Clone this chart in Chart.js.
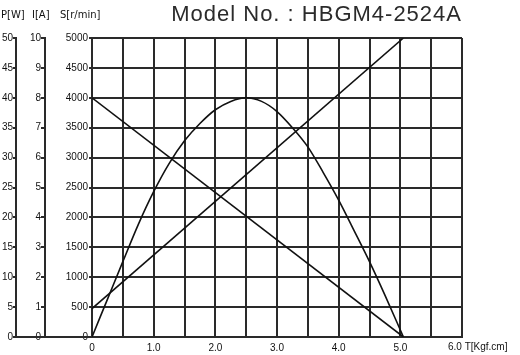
<!DOCTYPE html>
<html>
<head>
<meta charset="utf-8">
<script src="https://cdn.jsdelivr.net/npm/chart.js@4/dist/chart.umd.min.js"></script>
<style>
  html, body { margin: 0; padding: 0; background: #fff; }
  #wrap { width: 520px; height: 355px; }
</style>
</head>
<body>
<div id="wrap"><canvas id="chart"></canvas></div>
<script>
(function(){
    'use strict'

    // torque T [Kgf.cm] and the power curve
    var torque = [0, 0.25, 0.5, 0.75, 1.0, 1.25, 1.5, 1.75, 2.0, 2.25, 2.5, 2.75, 3.0, 3.25, 3.5, 3.75, 4.0, 4.25, 4.5, 4.75, 5.05];
    var power = [0, 6.3, 12.6, 18.8, 24.3, 29.0, 32.8, 35.7, 38.0, 39.4, 40.0, 39.4, 37.7, 35.0, 31.8, 27.5, 22.9, 17.8, 12.6, 7.0, 0];

    // speed and current are straight lines
    var speedTorque = [0, 5.05];
    var speed = [4000, 0];
    var currentTorque = [0, 5.05];
    var current = [0.95, 10];

    var xTicks = [0, 1.0, 2.0, 3.0, 4.0, 5.0];

    var title = 'Model No. : HBGM4-2524A';
    var ink = '#111';
    var gridInk = '#2a2a2a';
    var tickFont = { family: 'Liberation Sans', size: 10 };

    function pairs(xs, ys){
        return xs.map(function(x, i){ return { x: x, y: ys[i] }; });
    }

    var labels = {
        id: 'labels',
        afterDraw: function(chart){
            var ctx = chart.ctx;
            var area = chart.chartArea;
            var s = chart.scales;
            ctx.save();

            // line under the axes on the left
            ctx.strokeStyle = gridInk;
            ctx.lineWidth = 2;
            ctx.beginPath();
            ctx.moveTo(s.p.right, area.bottom);
            ctx.lineTo(area.left, area.bottom);
            ctx.stroke();

            ctx.fillStyle = ink;
            ctx.font = '10px "DejaVu Sans"';
            ctx.textBaseline = 'alphabetic';
            ctx.textAlign = 'left';
            ctx.fillText('P[W]', s.p.left + 1, 18);
            ctx.fillText('I[A]', s.i.left + 16, 18);
            ctx.fillText('S[r/min]', s.s.left + 15, 18);

            ctx.textBaseline = 'top';
            ctx.font = '10px "Liberation Sans"';
            ctx.fillText('6.0 T[Kgf.cm]', s.x.getPixelForValue(6) - 14, area.bottom + 5);

            ctx.fillStyle = '#2b2b2b';
            ctx.font = '22px "Liberation Sans"';
            ctx.letterSpacing = '1px';
            ctx.textAlign = 'right';
            ctx.textBaseline = 'alphabetic';
            ctx.fillText(title, area.right, 21);
            ctx.restore();
        }
    };

    function sideAxis(min, max, step, width, tickLength){
        return {
            position: 'left',
            min: min,
            max: max,
            grid: { drawOnChartArea: false, drawTicks: true, tickLength: tickLength, color: gridInk, lineWidth: 2 },
            border: { display: true, color: gridInk, width: 2 },
            ticks: {
                stepSize: step,
                autoSkip: false,
                padding: 0,
                color: ink,
                font: tickFont,
                callback: function(v){ return String(v); }
            },
            afterFit: function(scale){ scale.width = width; }
        };
    }

    var pAxis = sideAxis(0, 50, 5, 16, 3);
    pAxis.weight = 2;
    var iAxis = sideAxis(0, 10, 1, 29, 4);
    iAxis.weight = 1;
    var sAxis = sideAxis(0, 5000, 500, 47, 3);
    sAxis.weight = 0;
    sAxis.grid.drawOnChartArea = true;
    sAxis.ticks.padding = 1;

    new Chart(document.getElementById('chart'), {
        type: 'line',
        data: {
            datasets: [{
                label: 'P',
                data: pairs(torque, power),
                yAxisID: 'p',
                borderColor: ink,
                borderWidth: 1.6,
                pointRadius: 0,
                cubicInterpolationMode: 'monotone'
            }, {
                label: 'I',
                data: pairs(currentTorque, current),
                yAxisID: 'i',
                borderColor: ink,
                borderWidth: 1.6,
                pointRadius: 0
            }, {
                label: 'S',
                data: pairs(speedTorque, speed),
                yAxisID: 's',
                borderColor: ink,
                borderWidth: 1.6,
                pointRadius: 0
            }]
        },
        options: {
            responsive: true,
            maintainAspectRatio: false,
            animation: false,
            layout: { padding: { left: 0, top: 38, right: 58, bottom: 0 } },
            plugins: { legend: { display: false }, tooltip: { enabled: false } },
            scales: {
                x: {
                    type: 'linear',
                    min: 0,
                    max: 6,
                    grid: { drawTicks: false, color: gridInk, lineWidth: 2 },
                    border: { color: gridInk, width: 2 },
                    ticks: {
                        stepSize: 0.5,
                        autoSkip: false,
                        maxRotation: 0,
                        padding: 5,
                        color: ink,
                        font: tickFont,
                        callback: function(v){
                            var i = xTicks.indexOf(v);
                            if (i < 0) return '';
                            return v === 0 ? '0' : v.toFixed(1);
                        }
                    },
                    afterFit: function(scale){ scale.height = 18; }
                },
                p: pAxis,
                i: iAxis,
                s: sAxis
            }
        },
        plugins: [labels]
    });
})();
</script>
</body>
</html>
